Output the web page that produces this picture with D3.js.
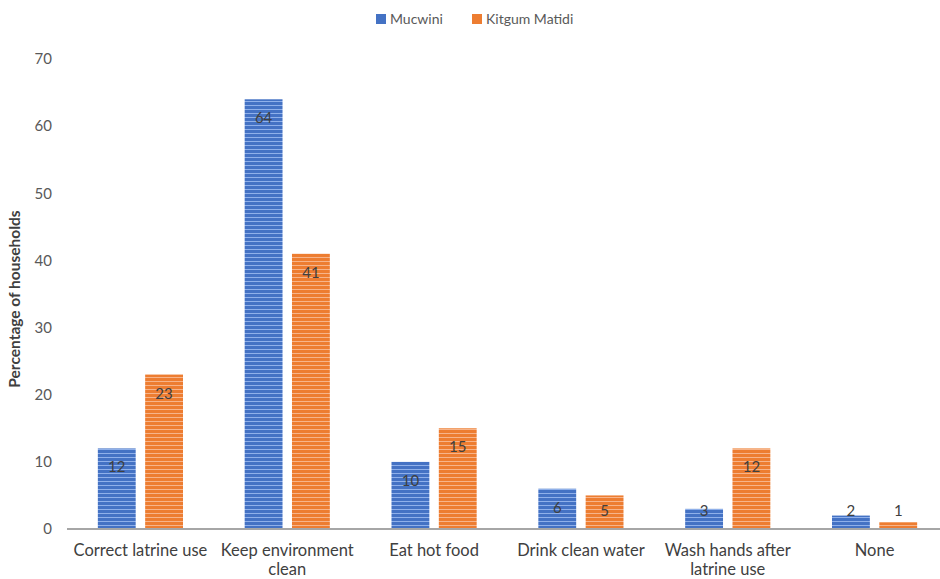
<!DOCTYPE html>
<html>
<head>
<meta charset="utf-8">
<script src="https://cdn.jsdelivr.net/npm/d3@7"></script>
<style>
  body { margin: 0; background: #fff; }
  text { font-family: Lato, "Open Sans", sans-serif; fill: #595959; }
</style>
</head>
<body>
<div id="chart"></div>
<script>
const WIDTH = 940;
const HEIGHT = 579;
const MARGIN = { TOP: 59, BOTTOM: 50, LEFT: 67, RIGHT: -8 };

const categories = [
  ['Correct latrine use'],
  ['Keep environment', 'clean'],
  ['Eat hot food'],
  ['Drink clean water'],
  ['Wash hands after', 'latrine use'],
  ['None']
];
const seriesNames = ['Mucwini', 'Kitgum Matidi'];
const mucwini = [12, 64, 10, 6, 3, 2];
const kitgum = [23, 41, 15, 5, 12, 1];
const yTicks = [0, 10, 20, 30, 40, 50, 60, 70];
const colors = ['#4472C4', '#ED7D31'];
const stripes = ['#8fb0ea', '#f7b48a'];

const width = WIDTH - MARGIN.LEFT - MARGIN.RIGHT;
const height = HEIGHT - MARGIN.TOP - MARGIN.BOTTOM;

const svg = d3.select('#chart')
  .append('svg')
    .attr('width', WIDTH)
    .attr('height', HEIGHT);

// striped fills like the original bars
const defs = svg.append('defs');
colors.forEach((c, i) => {
  const p = defs.append('pattern')
    .attr('id', `stripe${i}`)
    .attr('patternUnits', 'userSpaceOnUse')
    .attr('width', 8).attr('height', 4);
  p.append('rect').attr('width', 8).attr('height', 4).attr('fill', c);
  p.append('rect').attr('y', 2).attr('width', 8).attr('height', 1).attr('fill', stripes[i]);
});

const g = svg.append('g')
  .attr('transform', `translate(${MARGIN.LEFT}, ${MARGIN.TOP})`);

const x0 = d3.scaleBand()
  .domain(d3.range(categories.length))
  .range([0, width])
  .paddingInner(0.42)
  .paddingOuter(0.21);

const x1 = d3.scaleBand()
  .domain([0, 1])
  .range([0, x0.bandwidth()])
  .paddingInner(0.2)
  .paddingOuter(0);

const y = d3.scaleLinear().domain([0, 70]).range([height, 0]);

// y tick labels
g.selectAll('.ytick')
  .data(yTicks)
  .enter()
  .append('text')
    .attr('class', 'ytick')
    .attr('x', -15)
    .attr('y', d => y(d))
    .attr('dy', '0.35em')
    .attr('text-anchor', 'end')
    .attr('font-size', 15)
    .text(d => d);

g.append('text')
  .attr('transform', `translate(-47, ${height / 2 + 5}) rotate(-90)`)
  .attr('text-anchor', 'middle')
  .attr('font-size', 15.5)
  .attr('font-weight', 'bold')
  .style('fill', '#404040')
  .text('Percentage of households');

const rows = categories.map((c, i) => ({ i, vals: [mucwini[i], kitgum[i]] }));

const groups = g.selectAll('.grp')
  .data(rows)
  .enter()
  .append('g')
    .attr('class', 'grp')
    .attr('transform', d => `translate(${x0(d.i)}, 0)`);

groups.selectAll('rect')
  .data(d => d.vals.map((v, s) => ({ v, s })))
  .enter()
  .append('rect')
    .attr('x', d => x1(d.s))
    .attr('y', d => y(d.v))
    .attr('width', x1.bandwidth())
    .attr('height', d => height - y(d.v))
    .attr('fill', d => `url(#stripe${d.s})`);

// labels sit inside the bar end, pushed up for the short bars
groups.selectAll('.lbl')
  .data(d => d.vals.map((v, s) => ({ v, s })))
  .enter()
  .append('text')
    .attr('class', 'lbl')
    .attr('x', d => x1(d.s) + x1.bandwidth() / 2)
    .attr('y', d => Math.min(y(d.v) + 24, height - 13))
    .attr('text-anchor', 'middle')
    .attr('font-size', 15)
    .style('fill', '#404040')
    .text(d => d.v);

// baseline
g.append('line')
  .attr('x1', 0).attr('x2', width)
  .attr('y1', height).attr('y2', height)
  .attr('stroke', '#a6a6a6')
  .attr('stroke-width', 2);

// category labels
const cat = g.selectAll('.cat')
  .data(categories)
  .enter()
  .append('text')
    .attr('class', 'cat')
    .attr('x', (d, i) => x0(i) + x0.bandwidth() / 2)
    .attr('y', height + 27)
    .attr('text-anchor', 'middle')
    .attr('font-size', 16.5)
    .style('fill', '#404040');
cat.selectAll('tspan')
  .data(d => d)
  .enter()
  .append('tspan')
    .attr('x', function () { return d3.select(this.parentNode).attr('x'); })
    .attr('dy', (d, i) => i === 0 ? 0 : 19)
    .text(d => d);

// legend
const legend = svg.append('g').attr('transform', 'translate(376, 19)');
const legX = [0, 96];
seriesNames.forEach((name, i) => {
  legend.append('rect')
    .attr('x', legX[i]).attr('y', -5)
    .attr('width', 10).attr('height', 10)
    .attr('fill', colors[i]);
  legend.append('text')
    .attr('x', legX[i] + 14).attr('y', 0)
    .attr('dy', '0.35em')
    .attr('font-size', 14)
    .text(name);
});
</script>
</body>
</html>
